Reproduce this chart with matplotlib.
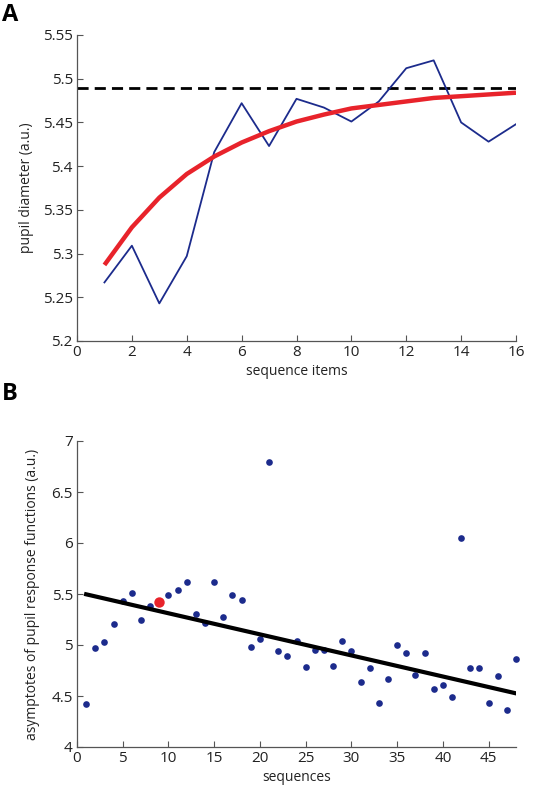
import matplotlib
matplotlib.use("Agg")
import matplotlib.pyplot as plt
import numpy as np

plt.rcParams['font.family'] = ['Open Sans', 'DejaVu Sans']

# Panel A data
items = [1, 2, 3, 4, 5, 6, 7, 8, 9, 10, 11, 12, 13, 14, 15, 16]
pupil = [5.267, 5.309, 5.243, 5.297, 5.416, 5.472, 5.423, 5.477, 5.467, 5.451,
         5.474, 5.512, 5.521, 5.450, 5.428, 5.448]
fit_curve = [5.287, 5.330, 5.364, 5.391, 5.411, 5.427, 5.440, 5.451, 5.459,
             5.466, 5.470, 5.474, 5.478, 5.480, 5.482, 5.484]
asymptote = 5.489
a_xticks = [0, 2, 4, 6, 8, 10, 12, 14, 16]
a_yticks = [5.2, 5.25, 5.3, 5.35, 5.4, 5.45, 5.5, 5.55]
a_yticklabels = ['5.2', '5.25', '5.3', '5.35', '5.4', '5.45', '5.5', '5.55']

# Panel B data
sequences = list(range(1, 49))
asymptotes = [4.418, 4.971, 5.033, 5.206, 5.428, 5.510, 5.248, 5.386, 5.418, 5.493,
              5.542, 5.614, 5.304, 5.212, 5.614, 5.271, 5.493, 5.441, 4.984, 5.059,
              6.797, 4.938, 4.889, 5.039, 4.781, 4.951, 4.951, 4.791, 5.039, 4.941,
              4.634, 4.778, 4.428, 4.667, 4.997, 4.922, 4.706, 4.922, 4.565, 4.608,
              4.493, 6.049, 4.775, 4.771, 4.435, 4.696, 4.366, 4.863]
highlight_seq = 9
trend_x = [1, 48]
trend_y = [5.497, 4.526]
b_xticks = [0, 5, 10, 15, 20, 25, 30, 35, 40, 45]
b_yticks = [4, 4.5, 5, 5.5, 6, 6.5, 7]
b_yticklabels = ['4', '4.5', '5', '5.5', '6', '6.5', '7']

W, H = 534, 788
fig = plt.figure(figsize=(W / 100, H / 100), dpi=100)

blue = '#1c2b8c'
red = '#e8232b'
spine_col = '#555555'

def style(ax):
    for s in ['top', 'right']:
        ax.spines[s].set_visible(False)
    for s in ['left', 'bottom']:
        ax.spines[s].set_color(spine_col)
        ax.spines[s].set_linewidth(0.9)
    ax.tick_params(direction='in', length=4, width=0.8, color=spine_col,
                   labelsize=11, labelcolor='#222222', pad=3)

axA = fig.add_axes([77 / W, 1 - 341 / H, (516 - 77) / W, (341 - 35) / H])
style(axA)
axA.plot(items, pupil, color=blue, lw=1.3, zorder=3)
axA.plot([0, 16], [asymptote, asymptote], color='black', lw=2.0,
         dashes=(4, 2.2), zorder=2)
axA.plot(items, fit_curve, color=red, lw=3.2, solid_capstyle='butt', zorder=4)
axA.set_xlim(0, 16)
axA.set_ylim(5.2, 5.55)
axA.set_xticks(a_xticks)
axA.set_yticks(a_yticks)
axA.set_yticklabels(a_yticklabels)
axA.set_xlabel('sequence items', fontsize=10, color='#222222', labelpad=3)
axA.set_ylabel('pupil diameter (a.u.)', fontsize=10, color='#222222', labelpad=6)

axB = fig.add_axes([77 / W, 1 - 747 / H, (516 - 77) / W, (747 - 441) / H])
style(axB)
bx = [s for s in sequences if s != highlight_seq]
by = [v for s, v in zip(sequences, asymptotes) if s != highlight_seq]
axB.plot(bx, by, 'o', color=blue, ms=4.8, mec='none', zorder=3, clip_on=False)
axB.plot(trend_x, trend_y, color='black', lw=3.0, zorder=4)
hv = asymptotes[sequences.index(highlight_seq)]
axB.plot([highlight_seq], [hv], 'o', color=red, ms=7.5, mec='none', zorder=5)
axB.set_xlim(0, 48)
axB.set_ylim(4, 7)
axB.set_xticks(b_xticks)
axB.set_yticks(b_yticks)
axB.set_yticklabels(b_yticklabels)
axB.set_xlabel('sequences', fontsize=10, color='#222222', labelpad=3)
axB.set_ylabel('asymptotes of pupil response functions (a.u.)', fontsize=10,
               color='#222222', labelpad=8)

fig.text(2 / W, 1 - 3 / H, 'A', fontsize=17, fontweight='bold', va='top', ha='left')
fig.text(2 / W, 1 - 382 / H, 'B', fontsize=17, fontweight='bold', va='top', ha='left')

fig.savefig('out.png', dpi=100)
